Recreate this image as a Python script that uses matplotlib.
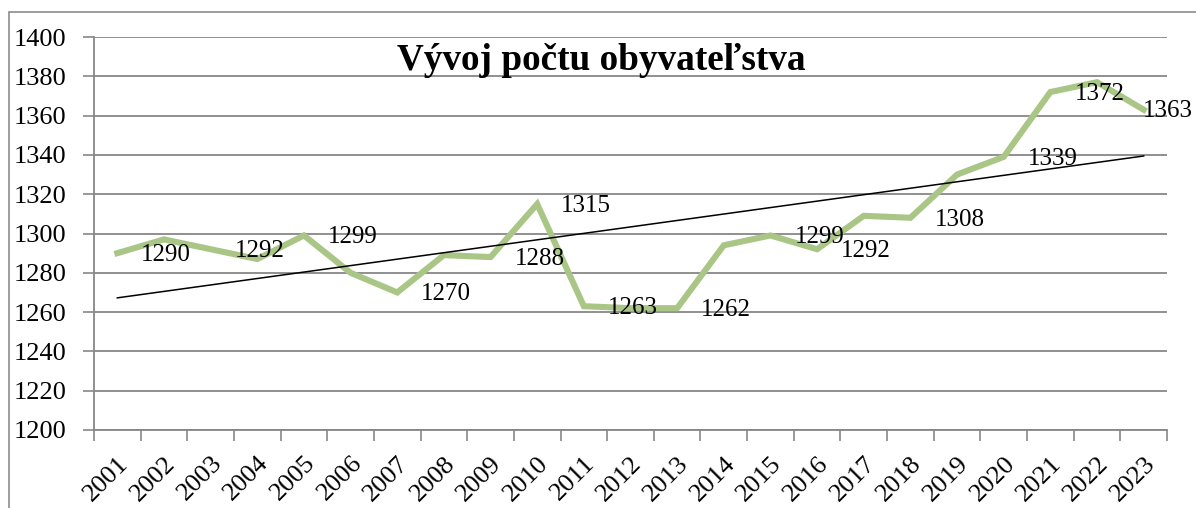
#imports
import numpy as np
import matplotlib
matplotlib.use("Agg")
import matplotlib.pyplot as plt
from matplotlib.patches import Rectangle

#data
years = list(range(2001, 2024))
population = [1290, 1297, 1292, 1287, 1299, 1280, 1270, 1289, 1288, 1315, 1263,
              1262, 1262, 1294, 1299, 1292, 1309, 1308, 1330, 1339, 1372, 1377, 1363]
# years that carry a value label
labelled_years = [2001, 2003, 2005, 2007, 2009, 2010, 2011, 2013, 2015, 2016,
                  2018, 2020, 2021, 2023]
title = "Vývoj počtu obyvateľstva"

#style
plt.rcParams['font.family'] = ['Liberation Serif', 'DejaVu Serif']
grid_col = '#878787'
line_col = '#aac686'
W, H = 1196, 508
fs = 19
fs_lab = 18

fig = plt.figure(figsize=(W / 100, H / 100), dpi=100)
ax = fig.add_axes([94 / W, 1 - 430 / H, (1167 - 94) / W, (430 - 37) / H])

# chart border (cut by the image edges)
fig.patches.append(Rectangle((9 / W, -0.2), 1.2, 1.2 - 12 / H, transform=fig.transFigure,
                             fill=False, edgecolor='#8c8c8c', linewidth=1.2))

x = np.arange(len(years))
ax.plot(x, population, color=line_col, linewidth=4.4, solid_joinstyle='miter', zorder=3)

# linear trend
k, q = np.polyfit(x, population, 1)
ax.plot(x, k * x + q, color='black', linewidth=1.1, zorder=4)

# value labels
for yr in labelled_years:
    i = years.index(yr)
    dx, dy = (24, -2) if yr != 2023 else (-1, -1)
    ax.annotate(str(population[i]), (x[i], population[i]), xytext=(dx, dy),
                textcoords='offset pixels', ha='left', va='center', fontsize=fs_lab,
                zorder=5)

#axes
ax.set_ylim(1200, 1400)
ax.set_yticks(range(1200, 1401, 20))
ax.set_xlim(-0.5, len(years) - 0.5)
ax.set_xticks(np.arange(-0.5, len(years), 1))
ax.set_xticklabels([])
ax.set_xticks(x, minor=True)
ax.set_xticklabels([str(y) for y in years], minor=True, rotation=45, ha='right',
                   va='top', rotation_mode='anchor', fontsize=fs)
ax.tick_params(axis='x', which='minor', length=0, pad=16)
ax.tick_params(axis='x', which='major', length=8, width=1.2, color=grid_col)
ax.tick_params(axis='y', length=8, width=1.2, color=grid_col, labelsize=fs, pad=12)

ax.grid(axis='y', color=grid_col, linewidth=1.3)
ax.set_axisbelow(True)
for side in ['top', 'right']:
    ax.spines[side].set_visible(False)
for side in ['left', 'bottom']:
    ax.spines[side].set_color(grid_col)
    ax.spines[side].set_linewidth(1.3)

fig.text(601 / W, 1 - 60 / H, title, ha='center', va='center', fontsize=26.8,
         fontweight='bold')

fig.savefig("out.png", dpi=100)
